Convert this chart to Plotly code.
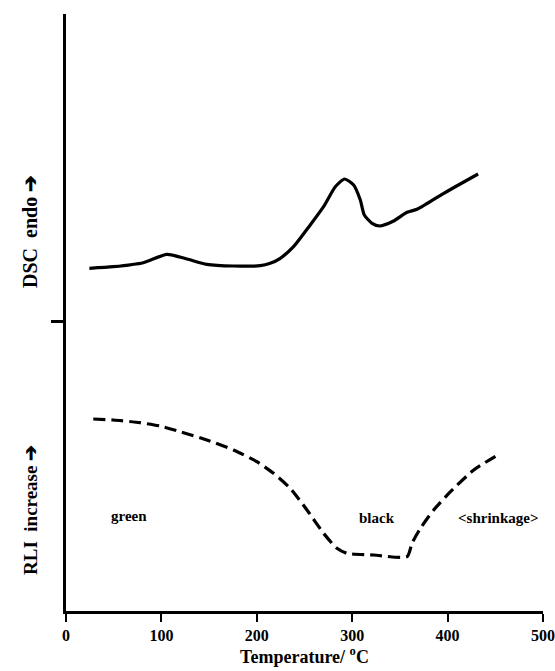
import plotly.graph_objects as go

# Temperature (°C) and signals (arbitrary units, height above the x-axis)
dsc_temp = [24.5, 49.6, 81, 105.7, 126.7, 147.6, 175.5, 203.6, 214, 224.6, 238.5, 256, 270,
            282.3, 292, 301.5, 308.5, 312.7, 320.8, 328.8, 343.4, 357.5, 368, 396, 432]
dsc_signal = [342.7, 344.3, 348.3, 356.7, 352, 346.7, 345, 345.3, 347.7, 352.7, 364.3, 386, 404.3,
              424.3, 432, 426, 411, 396, 387.7, 385, 390, 398.7, 401.7, 417.7, 437]

rli_temp = [28.6, 49.6, 77.6, 98.6, 119.6, 147.6, 175.5, 200.1, 217.5, 235, 252.6, 270, 284,
            294.5, 322.5, 357.5, 362.7, 371.5, 385.4, 403, 427.4, 455.4]
rli_signal = [192, 191, 188.3, 185, 179.3, 171, 161, 149.3, 137.7, 122.7, 101, 77.7, 62.7,
              57.7, 56, 54.3, 67.7, 82.7, 101, 119.3, 141, 157.7]

x_ticks = [0, 100, 200, 300, 400, 500]
y_divider = [290]

region_labels = ["green", "black", "&lt;shrinkage&gt;"]
region_x = [66, 326, 453]
region_y = [95, 93, 93]

font_family = "Liberation Serif"

fig = go.Figure()
fig.add_trace(go.Scatter(x=dsc_temp, y=dsc_signal, mode="lines",
                         line=dict(color="black", width=3.2, shape="spline", smoothing=0.6),
                         showlegend=False, hoverinfo="skip"))
fig.add_trace(go.Scatter(x=rli_temp, y=rli_signal, mode="lines",
                         line=dict(color="black", width=3.2, dash="12px,6px", shape="spline", smoothing=0.6),
                         showlegend=False, hoverinfo="skip"))

for t, xx, yy in zip(region_labels, region_x, region_y):
    fig.add_annotation(x=xx, y=yy, text=f"<b>{t}</b>", showarrow=False,
                       font=dict(family=font_family, size=15, color="black"))

fig.add_annotation(xref="paper", x=-0.0755, xanchor="center", y=380, yanchor="middle",
                   text="<b>DSC  endo ➔</b>", textangle=-90,
                   showarrow=False, font=dict(family=font_family, size=20, color="black"))
fig.add_annotation(xref="paper", x=-0.0755, xanchor="center", y=101, yanchor="middle",
                   text="<b>RLI  increase ➔</b>", textangle=-90,
                   showarrow=False, font=dict(family=font_family, size=19, color="black"))

fig.update_layout(
    width=555, height=671,
    margin=dict(l=66, r=12, t=14, b=60, autoexpand=False),
    plot_bgcolor="white", paper_bgcolor="white",
    font=dict(family=font_family, color="black"),
    xaxis=dict(range=[0, 500], tickvals=x_ticks, ticktext=[f"<b>{v}</b>" for v in x_ticks],
               automargin=False, ticklabeloverflow="allow",
               showgrid=False, zeroline=False, showline=True, linecolor="black", linewidth=2.5,
               ticks="outside", ticklen=8, tickwidth=2, tickcolor="black",
               tickfont=dict(family=font_family, size=16, color="black"),
               title=dict(text="<b>Temperature/ <sup>o</sup>C</b>", standoff=2,
                          font=dict(family=font_family, size=18, color="black"))),
    yaxis=dict(range=[0, 597], tickvals=y_divider, showticklabels=False, automargin=False,
               showgrid=False, zeroline=False, showline=True, linecolor="black", linewidth=2.5,
               ticks="outside", ticklen=12, tickwidth=3, tickcolor="black"),
)

fig.write_html("out.html", config={"displayModeBar": False},
               post_script="document.body.style.margin='0';document.body.style.overflow='hidden';")
